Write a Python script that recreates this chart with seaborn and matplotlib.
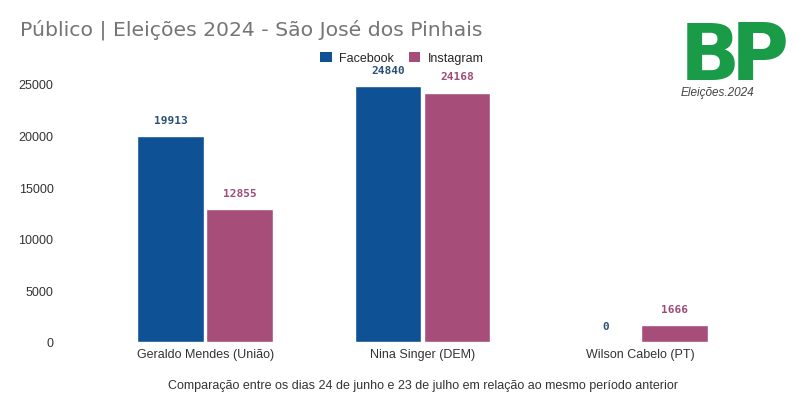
import matplotlib
matplotlib.use("Agg")
import matplotlib.pyplot as plt
import seaborn as sns
import pandas as pd
from matplotlib.patches import Patch

candidates = ["Geraldo Mendes (União)", "Nina Singer (DEM)", "Wilson Cabelo (PT)"]
facebook = [19913, 24840, 0]
instagram = [12855, 24168, 1666]
series = ["Facebook", "Instagram"]
colors = {"Facebook": "#0e5194", "Instagram": "#a64d79"}
label_colors = {"Facebook": "#2c5177", "Instagram": "#9e4c78"}
yticks = [0, 5000, 10000, 15000, 20000, 25000]

df = pd.DataFrame({
    "Candidato": candidates * 2,
    "Rede": ["Facebook"] * 3 + ["Instagram"] * 3,
    "Valor": facebook + instagram,
})

sns.set_theme(style="white")
plt.rcParams["font.family"] = ["Liberation Sans", "DejaVu Sans"]

fig = plt.figure(figsize=(8.05, 4.02), dpi=100)
ax = fig.add_axes([96.5 / 805, 1 - 343 / 402, 652 / 805, 258 / 402])

sns.barplot(data=df, x="Candidato", y="Valor", hue="Rede", order=candidates,
            hue_order=series, palette=colors, width=0.635, gap=0.03,
            saturation=1, ax=ax, legend=False)

ax.set_ylim(0, 25000)
ax.set_xlim(-0.5, 2.5)
ax.set_yticks(yticks)
ax.set_yticklabels([str(v) for v in yticks], fontsize=9, color="#333333")
ax.tick_params(axis="x", labelsize=9, labelcolor="#333333", length=0, pad=4)
ax.tick_params(axis="y", length=0, pad=31)
for s in ax.spines.values():
    s.set_visible(False)
ax.set_ylabel("")
ax.set_xlabel("Comparação entre os dias 24 de junho e 23 de julho em relação ao mesmo período anterior",
              fontsize=9, color="#333333", labelpad=14)

for container, name in zip(ax.containers, series):
    ax.bar_label(container, labels=[f"{int(v)}" for v in container.datavalues],
                 padding=8, fontsize=8, fontweight="bold", color=label_colors[name],
                 family="DejaVu Sans Mono", clip_on=False)

# legend
handles = [Patch(facecolor=colors[s], edgecolor="none") for s in series]
fig.legend(handles, series, loc="center", bbox_to_anchor=(402 / 805, 1 - 59 / 402),
           ncol=2, frameon=False, fontsize=9, handlelength=0.9, handleheight=0.9,
           columnspacing=1.2, handletextpad=0.6)

fig.text(20 / 805, 1 - 30 / 402, "Público | Eleições 2024 - São José dos Pinhais",
         fontsize=14.7, color="#757575", family="DejaVu Sans", va="center", ha="left")

# logo
logo_green = "#1a9b48"
fig.text(710 / 805, 1 - 80 / 402, "B", fontsize=57, fontweight="heavy", color=logo_green,
         family="DejaVu Sans", ha="center", va="baseline")
fig.text(760 / 805, 1 - 80 / 402, "P", fontsize=57, fontweight="heavy", color=logo_green,
         family="DejaVu Sans", ha="center", va="baseline")
fig.text(681 / 805, 1 - 93 / 402, "Eleições.2024", fontsize=8.5, style="italic",
         color="#444444", ha="left", va="center")

fig.savefig("out.png", dpi=100)
